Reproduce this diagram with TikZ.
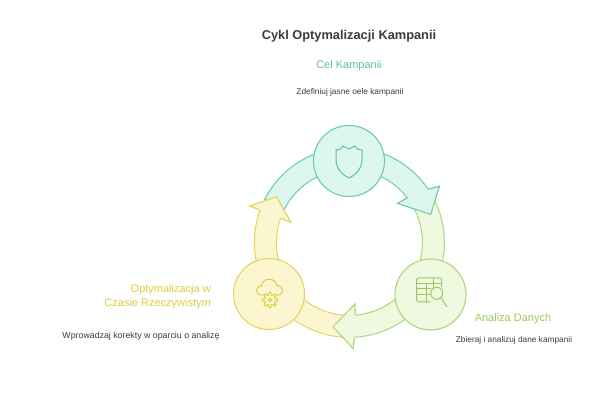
\documentclass[tikz,border=0pt]{standalone}
\usepackage{fontspec}
\setmainfont{Liberation Sans}
\usetikzlibrary{positioning}

\definecolor{tealline}{HTML}{6CCDA4}
\definecolor{tealfill}{HTML}{DDF7EE}
\definecolor{tealtext}{HTML}{5DC396}
\definecolor{greenline}{HTML}{AED579}
\definecolor{greenfill}{HTML}{EFF9E0}
\definecolor{greentext}{HTML}{9EC664}
\definecolor{yelline}{HTML}{E5D55C}
\definecolor{yelfill}{HTML}{FCF6D0}
\definecolor{yeltext}{HTML}{DFCD3E}
\definecolor{darktext}{HTML}{3C3C3C}

\tikzset{
  ring/.style={circle, minimum size=71pt, inner sep=0pt, line width=1.1pt},
  band/.style={line width=1pt, line join=miter},
  icon/.style={line width=1pt, line join=round, line cap=round},
  headline/.style={font=\fontsize{11}{13.5}\selectfont, inner sep=0pt},
  note/.style={font=\fontsize{8.3}{10}\selectfont, text=darktext, inner sep=0pt}
}

\begin{document}
\begin{tikzpicture}[x=1pt,y=1pt]
  \fill[white] (0,0) rectangle (600,409);
  \useasboundingbox (0,0) rectangle (600,409);
  \coordinate (mid) at (349.4,166.6);

  % curved arrows of the cycle
  \begin{scope}[shift={(mid)}]
    \filldraw[band, draw=tealline, fill=tealfill] (153:95) arc[start angle=153, end angle=34, radius=95]
      -- (32:106) -- (19:86) -- (39:62) -- (37.5:73) arc[start angle=37.5, end angle=153, radius=73] -- cycle;
    \filldraw[band, draw=greenline, fill=greenfill] (28:95) arc[start angle=28, end angle=-87, radius=95]
      -- (-88:106) -- (-101:86) -- (-85:62) -- (-85.5:73) arc[start angle=-85.5, end angle=28, radius=73] -- cycle;
    \filldraw[band, draw=yelline, fill=yelfill] (-93:95) arc[start angle=-93, end angle=-200, radius=95]
      -- (-200:106) -- (-212:86) -- (-199:62) -- (-199.5:73) arc[start angle=-199.5, end angle=-93, radius=73] -- cycle;
    % heads again, on top of the next band
    \filldraw[band, draw=tealline, fill=tealfill] (34:95) -- (32:106) -- (19:86) -- (39:62) -- (37.5:73);
    \filldraw[band, draw=greenline, fill=greenfill] (-87:95) -- (-88:106) -- (-101:86) -- (-85:62) -- (-85.5:73);
    \filldraw[band, draw=yelline, fill=yelfill] (-200:95) -- (-200:106) -- (-212:86) -- (-199:62) -- (-199.5:73);
  \end{scope}

  \node[ring, draw=tealline, fill=tealfill] (cel) at (349,248) {};
  \node[ring, draw=greenline, fill=greenfill] (analiza) at (430.5,114.5) {};
  \node[ring, draw=yelline, fill=yelfill] (optym) at (269,115) {};

  % shield
  \begin{scope}[shift={(cel.center)}]
    \draw[icon, draw=tealtext] (0,-17) .. controls (-8,-13) and (-13,-7) .. (-13,2) -- (-13,11)
      .. controls (-9,11) and (-7,13) .. (-6,15) -- (0,12) -- (6,15)
      .. controls (7,13) and (9,11) .. (13,11) -- (13,2) .. controls (13,-7) and (8,-13) .. (0,-17) -- cycle;
  \end{scope}

  % table and magnifier
  \begin{scope}[shift={(analiza.center)}]
    \draw[icon, draw=greentext, rounded corners=1.5pt] (-0.5,-7.5) -- (-13.8,-7.5) -- (-13.8,16.5) -- (11.2,16.5) -- (11.2,8);
    \draw[icon, draw=greentext] (-13.8,10.5) -- (11.2,10.5) (-13.8,5.5) -- (0.5,5.5) (-13.8,-0.5) -- (-0.3,-0.5)
      (-3.8,10.5) -- (-3.8,-7.5) (2.8,16.5) -- (2.8,7.2);
    \draw[icon, draw=greentext] (6.2,1.2) circle (6);
    \draw[icon, draw=greentext] (10.5,-3.1) -- (16.2,-12.2);
  \end{scope}

  % cloud with gear
  \begin{scope}[shift={(optym.center)}]
    \draw[icon, draw=yeltext] (-5.5,-1) -- (-7.5,-1) .. controls (-14,-1) and (-14,8) .. (-7.5,8)
      .. controls (-7.5,17) and (7.5,17) .. (7.5,8.5) .. controls (15,8.5) and (16,-1) .. (8.5,-1) -- (7.5,-1);
    \begin{scope}[shift={(1,-6)}]
      \draw[icon, draw=yeltext] (-14:5.2) \foreach \a in {0,45,...,315}{ -- (\a-14:5.2) -- (\a-9:7.6) -- (\a+9:7.6) -- (\a+14:5.2)} -- cycle;
      \draw[icon, draw=yeltext] (0,0) circle (1.8);
    \end{scope}
  \end{scope}

  % texts
  \node[font=\bfseries\fontsize{12.8}{15}\selectfont, text=darktext, inner sep=0pt] (title) at (349,373) {Cykl Optymalizacji Kampanii};
  \node[headline, text=tealtext] (celtitle) at (349,343) {Cel Kampanii};
  \node[note] (celnote) at (350,317) {Zdefiniuj jasne oele kampanii};
  \node[headline, text=greentext] (analizatitle) at (513,90) {Analiza Danych};
  \node[note] (analizanote) at (514,69) {Zbieraj i analizuj dane kampanii};
  \node[headline, text=yeltext, align=right, anchor=east] (optymtitle) at (211,112.5) {Optymalizacja w\\Czasie Rzeczywistym};
  \node[note, font=\fontsize{8.8}{10}\selectfont] (optymnote) at (141,73) {Wprowadzaj korekty w oparciu o analizę};
\end{tikzpicture}
\end{document}
